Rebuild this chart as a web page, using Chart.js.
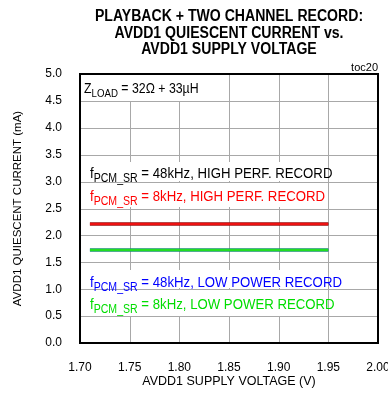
<!DOCTYPE html>
<html>
<head>
<meta charset="utf-8">
<script src="https://cdn.jsdelivr.net/npm/chart.js@4"></script>
</head>
<body style="margin:0">
<div style="width:388px;height:397px;position:relative"><canvas id="chart"></canvas></div>
<script>
// ? data
var voltages = [1.71, 1.75, 1.8, 1.85, 1.9, 1.95];
var highPerf48k = [2.21, 2.21, 2.21, 2.21, 2.21, 2.21];
var highPerf8k = [2.21, 2.21, 2.21, 2.21, 2.21, 2.21];
var lowPower48k = [1.73, 1.73, 1.73, 1.73, 1.73, 1.73];
var lowPower8k = [1.73, 1.73, 1.73, 1.73, 1.73, 1.73];

var titleLines = [
    "PLAYBACK + TWO CHANNEL RECORD:",
    "AVDD1 QUIESCENT CURRENT vs.",
    "AVDD1 SUPPLY VOLTAGE",
];

var FONT = "'Liberation Sans', Arial, sans-serif";
var NARROW = 0.88; // reference type is a condensed face

function pts(ys) {
    return ys.map(function (y, i) {
        return { x: voltages[i], y: y };
    });
}

// note rows: text, colour, baseline and white box (top, bottom) in px
var noteRows = [
    { rest: " = 48kHz, HIGH PERF. RECORD", color: "#000000", y: 178, box: [162, 181] },
    { rest: " = 8kHz, HIGH PERF. RECORD", color: "#ff0000", y: 201, box: [183, 207] },
    { rest: " = 48kHz, LOW POWER RECORD", color: "#0000ff", y: 287, box: [270, 288] },
    { rest: " = 8kHz, LOW POWER RECORD", color: "#00dd00", y: 309, box: [290, 316] },
];

function drawSub(ctx, x, y, size, main, sub, rest) {
    ctx.save();
    ctx.translate(x, y);
    ctx.scale(NARROW, 1);
    var px = 0;
    ctx.font = size + "px " + FONT;
    ctx.fillText(main, px, 0);
    px += ctx.measureText(main).width;
    ctx.font = Math.round(size * 0.78) + "px " + FONT;
    ctx.fillText(sub, px, 4);
    px += ctx.measureText(sub).width;
    ctx.font = size + "px " + FONT;
    ctx.fillText(rest, px, 0);
    ctx.restore();
}

var notes = {
    id: "notes",
    beforeDatasetsDraw: function (chart) {
        var ctx = chart.ctx;
        var a = chart.chartArea;
        var sx = chart.scales.x;
        var sy = chart.scales.y;
        ctx.save();
        // grid from the scales' own ticks
        ctx.strokeStyle = "#a8a8a8";
        ctx.lineWidth = 1;
        ctx.beginPath();
        sx.ticks.forEach(function (t) {
            var p = Math.round(sx.getPixelForValue(t.value)) + 0.5;
            ctx.moveTo(p, a.top);
            ctx.lineTo(p, a.bottom);
        });
        sy.ticks.forEach(function (t) {
            var p = Math.round(sy.getPixelForValue(t.value)) + 0.5;
            ctx.moveTo(a.left, p);
            ctx.lineTo(a.right, p);
        });
        ctx.stroke();

        ctx.textAlign = "left";
        ctx.textBaseline = "alphabetic";
        ctx.fillStyle = "#fff";
        ctx.fillRect(a.left + 1, a.top + 1, 121, 26);
        var boxRight = Math.round(sx.getPixelForValue(1.95)) - 1;
        noteRows.forEach(function (r) {
            ctx.fillRect(a.left + 1, r.box[0], boxRight - a.left - 1, r.box[1] - r.box[0]);
        });
        ctx.fillStyle = "#000";
        drawSub(ctx, a.left + 4, 93, 14, "Z", "LOAD", " = 32\u03a9 + 33\u00b5H");
        noteRows.forEach(function (r) {
            ctx.fillStyle = r.color;
            drawSub(ctx, a.left + 10, r.y, 15, "f", "PCM_SR", r.rest);
        });
        ctx.restore();
    },
    afterDatasetsDraw: function (chart) {
        var ctx = chart.ctx;
        var a = chart.chartArea;
        ctx.save();
        ctx.strokeStyle = "#000";
        ctx.lineWidth = 2;
        ctx.strokeRect(a.left, a.top, a.right - a.left, a.bottom - a.top);
        ctx.restore();
    },
    afterDraw: function (chart) {
        var ctx = chart.ctx;
        var a = chart.chartArea;
        var cx = (a.left + a.right) / 2;
        ctx.save();
        ctx.fillStyle = "#000";
        ctx.textAlign = "center";
        ctx.textBaseline = "alphabetic";
        ctx.font = "bold 16px " + FONT;
        titleLines.forEach(function (t, i) {
            ctx.save();
            ctx.translate(cx, 21 + i * 16.5);
            ctx.scale(NARROW, 1);
            ctx.fillText(t, 0, 0);
            ctx.restore();
        });
        ctx.textAlign = "right";
        ctx.font = "11px " + FONT;
        ctx.fillText("toc20", a.right, 71);
        ctx.restore();
    },
};

function series(ys, color) {
    return {
        data: pts(ys),
        borderColor: color,
        borderWidth: 3,
        pointRadius: 0,
        fill: false,
        tension: 0,
    };
}

new Chart(document.getElementById("chart"), {
    type: "line",
    data: {
        // first dataset is drawn on top
        datasets: [
            series(highPerf8k, "#ee1111"),
            series(lowPower8k, "#22dd22"),
            series(highPerf48k, "#000000"),
            series(lowPower48k, "#0000ff"),
        ],
    },
    options: {
        responsive: true,
        maintainAspectRatio: false,
        animation: false,
        layout: { padding: { top: 74, right: 10, bottom: 0, left: 0 } },
        scales: {
            x: {
                type: "linear",
                min: 1.7,
                max: 2.0,
                afterFit: function (s) {
                    s.height = 54;
                    s.paddingRight = 0;
                    s.paddingLeft = 0;
                },
                ticks: {
                    stepSize: 0.05,
                    color: "#000",
                    font: { family: FONT, size: 12 },
                    padding: 9,
                    maxRotation: 0,
                    autoSkip: false,
                    callback: function (v) {
                        return v.toFixed(2);
                    },
                },
                grid: { display: false },
                border: { color: "#000", width: 2 },
                title: {
                    display: true,
                    text: "AVDD1 SUPPLY VOLTAGE (V)",
                    color: "#000",
                    font: { family: FONT, size: 12.5 },
                    padding: { top: 0, bottom: 8 },
                },
            },
            y: {
                min: 0,
                max: 5,
                afterFit: function (s) {
                    s.width = 80;
                    s.paddingTop = 0;
                    s.paddingBottom = 0;
                },
                ticks: {
                    stepSize: 0.5,
                    color: "#000",
                    font: { family: FONT, size: 12 },
                    padding: 10,
                    callback: function (v) {
                        return v.toFixed(1);
                    },
                },
                grid: { display: false },
                border: { color: "#000", width: 2 },
                title: {
                    display: true,
                    text: "AVDD1 QUIESCENT CURRENT (mA)",
                    color: "#000",
                    font: { family: FONT, size: 11.5 },
                    padding: { top: 11, bottom: 0 },
                },
            },
        },
        plugins: {
            legend: { display: false },
            tooltip: { enabled: false },
        },
    },
    plugins: [notes],
});
</script>
</body>
</html>
